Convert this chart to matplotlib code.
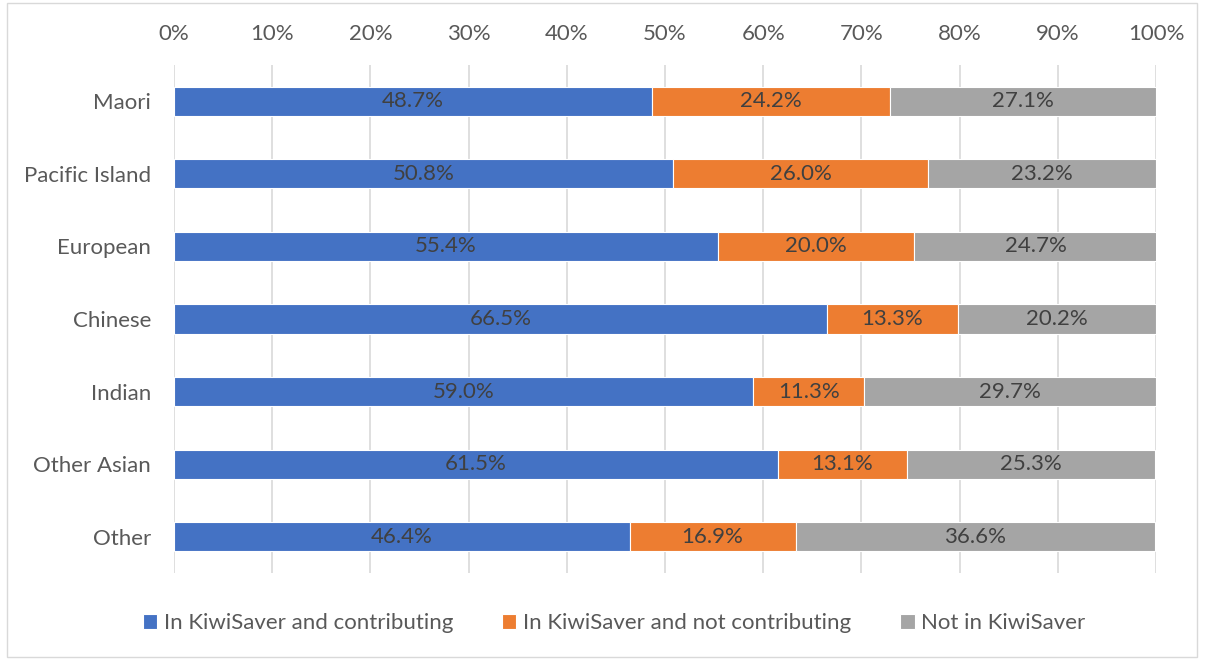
import numpy as np
import matplotlib.pyplot as plt
from matplotlib.patches import Rectangle

plt.rcParams['font.family'] = ['Lato', 'DejaVu Sans']

groups = ['Maori', 'Pacific Island', 'European', 'Chinese', 'Indian', 'Other Asian', 'Other']
contributing = [48.7, 50.8, 55.4, 66.5, 59.0, 61.5, 46.4]
not_contributing = [24.2, 26.0, 20.0, 13.3, 11.3, 13.1, 16.9]
not_in = [27.1, 23.2, 24.7, 20.2, 29.7, 25.3, 36.6]
series_names = ['In KiwiSaver and contributing', 'In KiwiSaver and not contributing', 'Not in KiwiSaver']
colors = ['#4472c4', '#ed7d31', '#a5a5a5']

fs = 16

fig = plt.figure(figsize=(12.05, 6.6), dpi=100)
ax = fig.add_axes([174/1205, 1-573/660, (1156-174)/1205, (573-65)/660])

y = np.arange(len(groups))
left = np.zeros(len(groups))
for vals, name, c in zip([contributing, not_contributing, not_in], series_names, colors):
    vals = np.array(vals)
    bars = ax.barh(y, vals, left=left, height=0.4, color=c, edgecolor='white', linewidth=0.8, label=name, zorder=3)
    for yi, l, v in zip(y, left, vals):
        ax.text(l + v/2, yi, '%.1f%%' % v, ha='center', va='center', fontsize=fs, color='#404040', zorder=4)
    left = left + vals

ax.set_xlim(0, 100)
ax.set_ylim(len(groups)-0.5, -0.5)
ax.set_yticks(y)
ax.set_yticklabels(groups)
ax.set_xticks(np.arange(0, 101, 10))
ax.set_xticklabels(['%d%%' % t for t in range(0, 101, 10)])
ax.xaxis.tick_top()
ax.tick_params(axis='both', length=0, labelsize=fs, labelcolor='#595959')
ax.tick_params(axis='x', pad=15)
ax.tick_params(axis='y', pad=16.5)
ax.grid(axis='x', color='#d9d9d9', linewidth=1.2, zorder=0)
for s in ax.spines.values():
    s.set_visible(False)

fig.legend(loc='center', bbox_to_anchor=(614/1205, 1-623/660), ncol=3, frameon=False,
           fontsize=fs, labelcolor='#595959', handlelength=0.65, handleheight=0.65,
           handletextpad=0.3, columnspacing=2.2)

fig.patches.append(Rectangle((7/1205, 3/660), 1190/1205, 654/660, transform=fig.transFigure,
                             fill=False, edgecolor='#d9d9d9', linewidth=1))

fig.savefig('out.png', dpi=100)
